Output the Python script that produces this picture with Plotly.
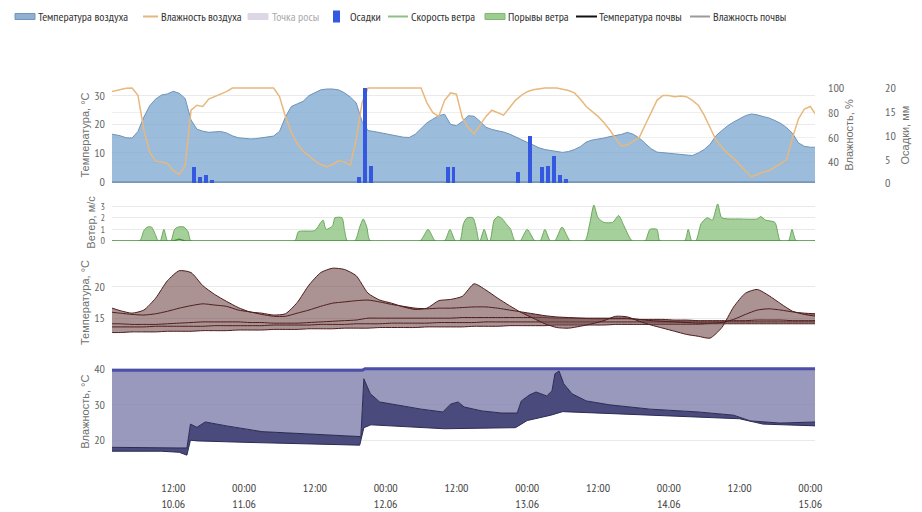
import pandas as pd
import plotly.graph_objects as go

BASE = pd.Timestamp("2023-06-10 00:00")

# ---------------- air (hourly, hours from 10.06 00:00) ----------------
air_hours = list(range(1, 122))
air_temp = [
    16.8, 16.4, 16.0, 15.3, 15.2, 17.5, 22.5, 26.5, 28.8, 30.2,
    30.6, 31.5, 30.8, 29.0, 21.5, 18.3, 17.6, 17.2, 17.3, 17.5,
    17.0, 16.0, 15.3, 15.1, 14.9, 15.0, 15.3, 15.5, 15.9, 17.5,
    22.5, 26.2, 27.2, 28.0, 30.0, 31.0, 32.0, 32.3, 32.3, 32.0,
    31.0, 29.5, 27.5, 21.0, 17.8, 17.5, 17.1, 16.7, 16.1, 15.8,
    15.5, 15.4, 16.5, 18.5, 20.5, 21.8, 23.0, 23.5, 20.0, 19.5,
    21.0, 23.0, 22.8, 21.0, 19.0, 18.2, 17.8, 17.3, 16.6, 15.6,
    14.5, 13.7, 12.8, 11.8, 11.2, 10.8, 10.5, 10.2, 10.5, 11.2,
    12.2, 13.8, 14.5, 14.8, 15.2, 15.7, 16.0, 16.5, 17.2, 16.5,
    15.2, 13.2, 11.5, 10.3, 10.0, 9.9, 9.7, 9.5, 9.3, 9.1,
    10.0, 11.2, 13.0, 16.0, 17.8, 19.5, 20.8, 22.0, 23.0, 23.6,
    23.3, 22.7, 22.2, 21.3, 20.3, 18.8, 16.8, 13.5, 12.3, 12.0,
    12.0,
]
air_hum = [
    96.5, 97.5, 98.5, 99.8, 100, 94, 66, 48, 41, 40,
    39, 33, 30, 37, 82, 86, 85, 91, 93, 95,
    97, 100, 100, 100, 100, 100, 100, 100, 100, 93,
    77, 64, 55, 49, 45, 41, 38, 36, 38, 41,
    40, 37.5, 58, 88, 100, 100, 100, 100, 100, 100,
    100, 100, 100, 100, 88, 80, 77, 90, 96, 95,
    76, 68, 63, 70, 77, 82, 80, 78, 84, 90,
    94, 97, 98.5, 99.5, 100, 100, 100, 99, 98, 96,
    91, 85, 81, 77, 72, 66, 59, 53, 54, 57,
    60, 70, 80, 90, 94, 94, 93, 93.5, 93, 90,
    86, 78, 68, 58, 52, 47, 43, 38, 33, 28,
    30, 32, 33, 36, 39, 42, 60, 75, 83, 85,
    78,
]

# precipitation (mm), hours
rain_hours = [15.5, 16.5, 17.5, 18.5, 43.5, 44.5, 45.5, 58.5, 59.5,
              70.5, 72.5, 74.5, 75.5, 76.5, 77.5, 78.5]
rain_mm = [3.3, 1.2, 1.7, 0.6, 1.2, 20.0, 3.6, 3.3, 3.3,
           2.4, 9.9, 3.3, 3.6, 5.7, 1.7, 0.8]

# ---------------- wind ----------------
gust_hours = [1, 6.3, 7.0, 7.6, 8.3, 9.0, 9.4, 9.8, 10.4, 11.0, 11.6, 12.2, 12.8, 13.8, 14.5, 15.0,
              32.6, 33.2, 36.0, 37.0, 37.4, 37.9, 39.0, 39.4, 40.6, 41.0, 41.5,
              42.8, 43.6, 44.2, 44.8, 45.4,
              53.8, 55.2, 56.4, 58.0, 58.9, 59.8,
              60.6, 61.2, 61.8, 62.8, 63.4, 63.8, 64.0, 64.7, 65.4,
              65.7, 66.4, 67.0, 67.6, 68.4, 69.2, 69.9,
              70.8, 72.0, 73.3, 74.2, 75.0, 75.9, 76.7, 77.9, 79.3,
              81.8, 82.6, 83.3, 84.0, 85.0, 86.5, 87.5, 88.5, 89.8,
              92.0, 92.8, 94.0, 94.5, 98.7, 99.3, 99.9,
              100.6, 101.5, 102.5, 103.4, 104.3, 105.0, 108.0, 111.0, 111.6, 112.4, 114.0, 114.9,
              116.3, 116.9, 117.6, 121]
gust_ms = [0, 0, 0.9, 1.2, 1.2, 0.5, 0, 0, 1.0, 0, 0, 1.0, 1.2, 1.2, 0.8, 0,
           0, 0.8, 0.9, 1.6, 1.8, 1.0, 1.3, 2.0, 2.0, 1.0, 0,
           0, 1.2, 1.9, 1.2, 0,
           0, 1.0, 0, 0, 1.0, 0,
           0, 1.5, 2.0, 2.0, 1.0, 0, 0, 1.0, 0,
           0, 1.8, 2.1, 2.0, 1.5, 1.0, 0,
           0, 1.0, 0, 0, 1.0, 0, 0, 1.2, 0,
           0, 1.5, 3.1, 2.0, 1.6, 1.6, 2.2, 1.2, 0,
           0, 1.0, 1.0, 0, 0, 1.0, 0,
           0, 1.5, 2.0, 1.8, 3.2, 2.0, 1.9, 1.9, 2.1, 1.8, 1.6, 0,
           0, 1.0, 0, 0]
speed_hours = [1, 12.0, 13.0, 14.0, 121]
speed_ms = [0, 0, 0.15, 0, 0]

# ---------------- soil temperature (2-hourly) ----------------
soil_hours = list(range(1, 122, 2))
soil_t1 = [16.8, 16.2, 15.8, 16.3, 18.2, 21.0, 22.6, 22.3, 20.2, 18.8,
           17.7, 16.7, 16.0, 15.8, 15.5, 15.7, 17.5, 20.3, 22.3, 23.0,
           22.8, 21.8, 19.0, 17.9, 17.4, 16.8, 16.4, 16.6, 17.8, 18.0,
           18.5, 20.5, 19.5, 18.2, 17.0, 15.9, 15.0, 14.1, 13.5, 13.4,
           13.7, 14.1, 14.6, 15.3, 15.2, 14.5, 13.9, 13.4, 12.9, 12.4,
           12.1, 11.8, 13.5, 16.8, 19.0, 19.6, 18.6, 17.3, 16.1, 15.6,
           15.3]
soil_t2 = [16.0, 15.8, 15.6, 15.5, 15.7, 16.1, 16.6, 17.0, 17.3, 17.1,
           16.9, 16.3, 16.0, 15.6, 15.3, 15.3, 15.8, 16.3, 16.9, 17.4,
           17.6, 17.8, 17.9, 17.6, 17.2, 16.9, 16.6, 16.5, 16.6, 16.6,
           16.7, 16.8, 16.8, 16.6, 16.3, 16.0, 15.7, 15.4, 15.2, 15.1,
           15.0, 15.0, 15.0, 15.0, 15.0, 14.8, 14.6, 14.5, 14.4, 14.3,
           14.2, 14.2, 14.3, 14.8, 15.6, 16.3, 16.5, 16.3, 16.0, 15.8,
           15.7]
soil_t3 = [14.1, 14.1, 14.0, 14.0, 14.0, 14.1, 14.2, 14.3, 14.4, 14.4,
           14.4, 14.4, 14.3, 14.3, 14.2, 14.2, 14.2, 14.3, 14.4, 14.5,
           14.6, 14.7, 15.0, 15.0, 15.0, 15.0, 15.0, 15.0, 15.0, 15.0,
           15.1, 15.1, 15.1, 15.1, 15.1, 15.1, 15.1, 15.1, 15.0, 15.0,
           15.0, 14.9, 14.9, 14.9, 14.9, 14.8, 14.8, 14.8, 14.7, 14.7,
           14.6, 14.6, 14.6, 14.6, 14.6, 14.7, 14.7, 14.7, 14.6, 14.6,
           14.6]
soil_t4 = [13.6, 13.6, 13.6, 13.6, 13.7, 13.7, 13.7, 13.7, 13.7, 13.8,
           13.8, 13.8, 13.8, 13.8, 13.9, 13.9, 13.9, 13.9, 14.0, 14.0,
           14.0, 14.1, 14.1, 14.1, 14.2, 14.2, 14.2, 14.2, 14.3, 14.3,
           14.3, 14.3, 14.4, 14.4, 14.4, 14.4, 14.4, 14.4, 14.4, 14.4,
           14.4, 14.4, 14.4, 14.4, 14.4, 14.4, 14.4, 14.4, 14.4, 14.4,
           14.4, 14.4, 14.4, 14.4, 14.4, 14.4, 14.4, 14.4, 14.4, 14.4,
           14.4]
soil_t5 = [12.7, 12.7, 12.8, 12.8, 12.8, 12.9, 12.9, 12.9, 13.0, 13.0,
           13.0, 13.1, 13.1, 13.1, 13.2, 13.2, 13.2, 13.3, 13.3, 13.3,
           13.4, 13.4, 13.4, 13.5, 13.5, 13.5, 13.5, 13.6, 13.6, 13.6,
           13.6, 13.7, 13.7, 13.7, 13.8, 13.8, 13.8, 13.8, 13.9, 13.9,
           13.9, 13.9, 13.9, 14.0, 14.0, 14.0, 14.0, 14.0, 14.0, 14.0,
           14.0, 14.1, 14.1, 14.1, 14.1, 14.1, 14.1, 14.1, 14.1, 14.1,
           14.1]

# ---------------- soil moisture ----------------
moist_top_hours = [1, 44.0, 44.5, 121]
moist_top = [39.6, 39.6, 40.0, 40.0]
moist_mid_hours = [1, 14.3, 14.9, 16, 17.4, 21, 27, 36, 43.8, 44.3, 45.4, 47, 50.6, 54, 57.7,
                   59, 60.3, 61.3, 64.3, 67.7, 70.3, 71, 72.4, 73.5, 75.3, 76.2, 76.7, 77.4,
                   78.2, 79.6, 82, 86, 92.8, 101, 107, 109.8, 114.9, 121]
moist_mid = [18.0, 17.8, 24.5, 23.6, 25.1, 24.0, 22.4, 21.6, 21.0, 37.2, 33.0, 30.7, 29.6, 28.7, 27.9,
             30.1, 30.7, 29.3, 28.2, 27.6, 27.6, 31.0, 32.7, 33.5, 32.4, 33.8, 38.6, 39.4,
             35.8, 33.0, 31.0, 29.9, 28.7, 27.9, 27.0, 25.4, 24.8, 25.1]
moist_low_hours = [1, 10, 13, 14.3, 14.9, 16, 24, 35, 43.6, 44.3, 45.5, 58, 70, 72, 76, 78,
                   85, 100, 108, 112, 121]
moist_low = [16.9, 16.9, 16.6, 15.8, 20.0, 19.8, 19.4, 19.0, 18.6, 23.5, 24.3, 23.2, 23.5, 25.5,
             27.0, 28.0, 27.5, 26.5, 26.0, 24.5, 24.0]

# x tick labels
tick_hours = [12, 24, 36, 48, 60, 72, 84, 96, 108, 120]
tick_text = ["12:00<br>10.06", "00:00<br>11.06", "12:00", "00:00<br>12.06", "12:00",
             "00:00<br>13.06", "12:00", "00:00<br>14.06", "12:00", "00:00<br>15.06"]

# legend entries
legend_names = ["Температура воздуха", "Влажность воздуха", "Точка росы", "Осадки",
                "Скорость ветра", "Порывы ветра", "Температура почвы", "Влажность почвы"]


def tx(hours):
    return [BASE + pd.Timedelta(hours=h) for h in hours]


NARROW = "PT Sans Narrow, Roboto Condensed, Liberation Sans, sans-serif"
FONT = "Liberation Sans, Arial, sans-serif"
fig = go.Figure()

# top panel
fig.add_trace(go.Scatter(x=tx(air_hours), y=air_temp, name=legend_names[0], yaxis="y",
                         mode="lines", fill="tozeroy", fillcolor="rgba(122,165,207,0.75)",
                         line=dict(color="#6f93b8", width=1)))
fig.add_trace(go.Scatter(x=tx(air_hours), y=air_hum, name=legend_names[1], yaxis="y2",
                         mode="lines", line=dict(color="#e8b87c", width=1.5)))
fig.add_trace(go.Scatter(x=[], y=[], name=legend_names[2], yaxis="y", mode="lines",
                         fill="tozeroy", fillcolor="#cfc6dd", line=dict(color="#cfc6dd", width=1),
                         visible="legendonly"))
fig.add_trace(go.Bar(x=tx(rain_hours), y=rain_mm, name=legend_names[3], yaxis="y3",
                     marker=dict(color="#3458e0", line=dict(width=0)), width=2.4e6))

# wind panel
fig.add_trace(go.Scatter(x=tx(gust_hours), y=gust_ms, name=legend_names[5], yaxis="y4",
                         mode="lines", fill="tozeroy", fillcolor="rgba(128,188,112,0.7)",
                         line=dict(color="#6aa85c", width=1, shape="spline", smoothing=0.6)))
fig.add_trace(go.Scatter(x=tx(speed_hours), y=speed_ms, name=legend_names[4], yaxis="y4",
                         mode="lines", line=dict(color="#3f8f35", width=1.5)))

# soil temperature
soil_fill = "rgba(120,80,80,0.62)"
for i, vals in enumerate([soil_t5, soil_t4, soil_t3, soil_t2, soil_t1]):
    fig.add_trace(go.Scatter(x=tx(soil_hours), y=vals, yaxis="y5", mode="lines",
                             name=legend_names[6],
                             fill=None if i == 0 else "tonexty", fillcolor=soil_fill,
                             line=dict(color="#4e1c1c", width=1, shape="spline", smoothing=0.6),
                             hoverinfo="skip"))

# soil moisture
fig.add_trace(go.Scatter(x=tx(moist_low_hours), y=moist_low, yaxis="y6", mode="lines",
                         name=legend_names[7], line=dict(color="#2c2c55", width=1)))
fig.add_trace(go.Scatter(x=tx(moist_mid_hours), y=moist_mid, yaxis="y6", mode="lines",
                         name=legend_names[7], fill="tonexty", fillcolor="#4a4a7c",
                         line=dict(color="#2a2a50", width=1)))
fig.add_trace(go.Scatter(x=tx(moist_top_hours), y=moist_top, yaxis="y6", mode="lines",
                         name=legend_names[7], fill="tonexty", fillcolor="rgba(135,135,178,0.85)",
                         line=dict(color="#4d4dab", width=3)))

# ---- legend drawn as a row of swatches + labels (page px -> paper coords) ----
def px(xp):
    return (xp - 112) / 768.0


def py(yp):
    return (458 - yp) / 371.0


ROW = 16.5
swatches = [
    ("rect", 15, 35, "#8fb0d3", "#7096bb"),
    ("line", 143, 158, "#e3b77f", None),
    ("rect", 248, 268, "#dcd6e6", None),
    ("bar", 333, 340, "#3458e0", None),
    ("line", 388, 408, "#8cc084", None),
    ("rect", 485, 505, "#9ccc8f", "#7fb872"),
    ("line", 576, 597, "#111111", None),
    ("line", 690, 710, "#9a9a9a", None),
]
label_x = [37, 160, 271, 349, 410, 507, 598, 712]
for (kind, x0, x1, col, lcol), lx, name in zip(swatches, label_x, legend_names):
    if kind == "line":
        fig.add_shape(type="line", xref="paper", yref="paper", x0=px(x0), x1=px(x1),
                      y0=py(ROW), y1=py(ROW), line=dict(color=col, width=2))
    elif kind == "rect":
        fig.add_shape(type="rect", xref="paper", yref="paper", x0=px(x0), x1=px(x1),
                      y0=py(ROW + 3), y1=py(ROW - 3), fillcolor=col,
                      line=dict(color=lcol or col, width=1))
    else:
        fig.add_shape(type="rect", xref="paper", yref="paper", x0=px(x0), x1=px(x1),
                      y0=py(ROW + 6), y1=py(ROW - 6), fillcolor=col, line=dict(width=0))
    fig.add_annotation(xref="paper", yref="paper", x=px(lx), y=py(ROW), xanchor="left",
                       yanchor="middle", showarrow=False, text=name, borderpad=0,
                       font=dict(family=NARROW, size=12,
                                 color="#aaaaaa" if name == "Точка росы" else "#333333"))

tickfont = dict(size=12, color="#666666", family=NARROW)
titlefont = dict(size=11, color="#707070", family=FONT)
grid = "#e9e9e9"

fig.update_layout(
    width=914, height=504,
    margin=dict(l=104, r=42, t=79, b=54),
    paper_bgcolor="white", plot_bgcolor="white",
    font=dict(family=NARROW, size=12, color="#333333"),
    showlegend=False,
    bargap=0,
    xaxis=dict(domain=[0, 0.9154], anchor="y6", automargin=False,
               range=[BASE + pd.Timedelta(hours=1.6), BASE + pd.Timedelta(hours=120.8)],
               tickvals=tx(tick_hours), ticktext=tick_text, showgrid=False, zeroline=False,
               showline=False, ticks="", ticklabelstandoff=21,
               tickfont=dict(size=12, color="#444444", family=NARROW)),
    yaxis=dict(domain=[0.741, 1.0], range=[-0.5, 33], tickvals=[0, 10, 20, 30], automargin=False,
               title=dict(text="Температура, °C", font=titlefont, standoff=2),
               tickfont=tickfont, gridcolor=grid, zeroline=True, zerolinecolor="#7b97b5",
               zerolinewidth=1.5, ticklabelstandoff=6),
    yaxis2=dict(overlaying="y", side="right", anchor="x", range=[23, 100.8], automargin=False,
                tickvals=[40, 60, 80, 100],
                title=dict(text="Влажность, %", font=titlefont, standoff=2),
                tickfont=tickfont, showgrid=True, gridcolor="#efefef", zeroline=False,
                ticklabelstandoff=12),
    yaxis3=dict(overlaying="y", side="right", anchor="free", position=1.0, range=[0, 20.2],
                automargin=False, tickvals=[0, 5, 10, 15, 20],
                title=dict(text="Осадки, мм", font=titlefont, standoff=6),
                tickfont=tickfont, showgrid=False, zeroline=False, ticklabelstandoff=4),
    yaxis4=dict(domain=[0.585, 0.685], anchor="x", range=[0, 3.2], tickvals=[0, 1, 2, 3],
                automargin=False,
                title=dict(text="Ветер, м/с", font=titlefont, standoff=2),
                tickfont=dict(size=10, color="#666666", family=NARROW),
                gridcolor=grid, zeroline=False, ticklabelstandoff=6),
    yaxis5=dict(domain=[0.318, 0.520], anchor="x", range=[11.5, 23.5], tickvals=[15, 20],
                automargin=False,
                title=dict(text="Температура, °C", font=titlefont, standoff=2),
                tickfont=tickfont, gridcolor=grid, zeroline=False, ticklabelstandoff=6),
    yaxis6=dict(domain=[0.0, 0.25], anchor="x", range=[15, 41], tickvals=[20, 30, 40],
                automargin=False,
                title=dict(text="Влажность, °C", font=titlefont, standoff=2),
                tickfont=tickfont, gridcolor=grid, zeroline=False, ticklabelstandoff=6),
)

fig.write_html("out.html")
